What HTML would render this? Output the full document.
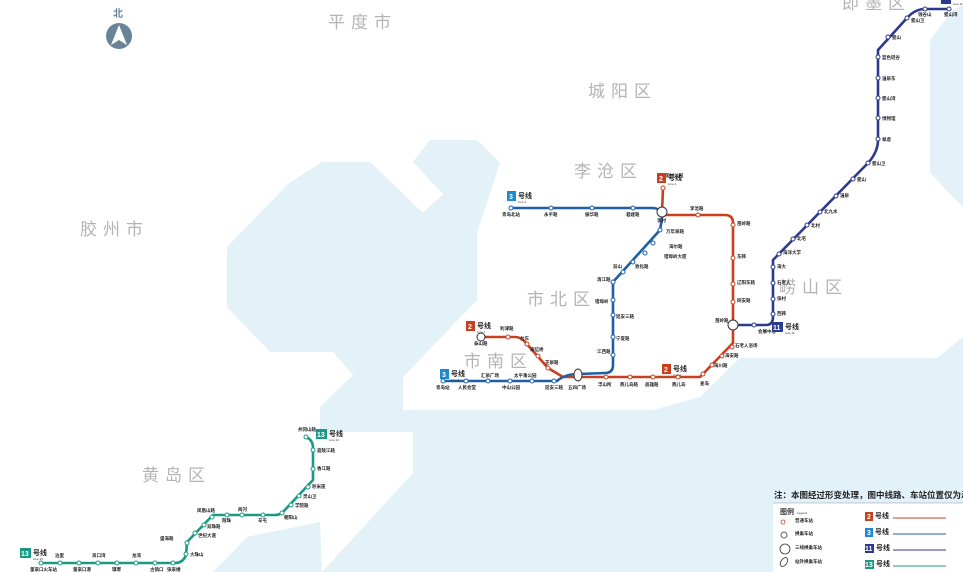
<!DOCTYPE html>
<html><head><meta charset="utf-8"><style>
html,body{margin:0;padding:0;background:#fff}
svg{display:block}
text{font-family:"Liberation Sans","Noto Sans CJK SC",sans-serif}
.d{font-size:17px;fill:#b4b4b4;letter-spacing:6px}
.s{font-size:4.5px;fill:#222;font-weight:bold}
.e{font-size:2.5px;fill:#555}
.b{font-size:7px;fill:#fff;font-weight:bold}
.h{font-size:7px;fill:#222;font-weight:bold}
.l{font-size:3px;fill:#333}
</style></head><body>
<svg width="963" height="572" viewBox="0 0 963 572" xmlns="http://www.w3.org/2000/svg">
<rect width="963" height="572" fill="#fff"/>
<g fill="#e3f1f9">
<polygon points="227,247 288,184 322,162 413,162 430,140 477,140 500,163 477,233 477,300 403,377 403,410 653,410 700,397 740,358 937,358 963,337 963,572 322,572 413,473 413,432 320,432 320,407 353,375 333,352 270,352 227,307"/>
<polygon points="213,572 247,537 320,522 322,572"/>
<polygon points="953,10 963,5 963,207 930,173 930,40"/>
</g>
<polygon points="370,162 413,162 443,194 423,213" fill="#fff"/>
<text class="d" x="328" y="28">平度市</text>
<text class="d" x="588" y="97">城阳区</text>
<text class="d" x="574" y="177">李沧区</text>
<text class="d" x="80" y="235">胶州市</text>
<text class="d" x="527" y="305">市北区</text>
<text class="d" x="464" y="367">市南区</text>
<text class="d" x="779" y="293">崂山区</text>
<text class="d" x="142" y="481">黄岛区</text>
<text class="d" x="842" y="9">即墨区</text>
<text x="113" y="17" style="font-size:10px;font-weight:bold;fill:#6a8396">北</text>
<circle cx="119" cy="36" r="13" fill="#6a8396"/>
<polygon points="119,25 127,45 119,40 111,45" fill="#fff"/>
<g fill="none" stroke-width="2.6" stroke-linejoin="round" stroke-linecap="round">
<path d="M733,325 L766,325 Q773,325 773,317 L773,260 L868,163 Q878,152 878,140 L878,50 L907,18 Q915,9 925,9 L949,9" stroke="#2a3a8f"/>
<path d="M663,188 L662,212 M662,215 L725,215 Q733,215 733,223 L733,343 L700,377 L563,377 L548,368 L525,342 Q521,337 515,337 L481,337" stroke="#c8401e"/>
<path d="M511,208 L652,208 Q662,208 662,218 L660,230 L613,282 L613,365 Q613,373 605,373 L578,374 Q565,374 557,381 L443,381" stroke="#1e5fa8"/>
<path d="M306,437 Q313,440 313,448 L313,480 L282,513 Q279,515 275,515 L213,515 L187,542 L186,555 Q183,563 175,563 L40,563" stroke="#1a9a84"/>
</g>
<g fill="#fff" stroke-width="1">
<g stroke="#1e5fa8">
<circle cx="511" cy="208" r="2"/><circle cx="551" cy="208" r="2"/><circle cx="592" cy="208" r="2"/><circle cx="633" cy="208" r="2"/>
<circle cx="660" cy="230" r="2"/><circle cx="653" cy="243" r="2"/><circle cx="645" cy="253" r="2"/><circle cx="633" cy="262" r="2"/><circle cx="623" cy="272" r="2"/><circle cx="613" cy="282" r="2"/><circle cx="613" cy="300" r="2"/><circle cx="613" cy="315" r="2"/><circle cx="613" cy="337" r="2"/><circle cx="613" cy="355" r="2"/>
<circle cx="443" cy="381" r="2"/><circle cx="466" cy="381" r="2"/><circle cx="488" cy="381" r="2"/><circle cx="510" cy="381" r="2"/><circle cx="532" cy="381" r="2"/><circle cx="554" cy="381" r="2"/>
</g>
<g stroke="#c8401e">
<circle cx="663" cy="188" r="2"/><circle cx="698" cy="215" r="2"/><circle cx="733" cy="225" r="2"/><circle cx="733" cy="258" r="2"/><circle cx="733" cy="284" r="2"/><circle cx="733" cy="302" r="2"/>
<circle cx="732" cy="347" r="2"/><circle cx="722" cy="356" r="2"/><circle cx="712" cy="365" r="2"/><circle cx="703" cy="374" r="2"/>
<circle cx="678" cy="377" r="2"/><circle cx="653" cy="377" r="2"/><circle cx="630" cy="377" r="2"/><circle cx="606" cy="377" r="2"/>
<circle cx="548" cy="368" r="2"/><circle cx="538" cy="356" r="2"/><circle cx="527" cy="344" r="2"/><circle cx="508" cy="337" r="2"/>
</g>
<g stroke="#2a3a8f">
<circle cx="754" cy="325" r="2"/><circle cx="773" cy="314" r="2"/><circle cx="773" cy="299" r="2"/><circle cx="773" cy="283" r="2"/><circle cx="773" cy="267" r="2"/><circle cx="779" cy="254" r="2"/><circle cx="793" cy="239" r="2"/><circle cx="807" cy="225" r="2"/><circle cx="820" cy="212" r="2"/><circle cx="836" cy="196" r="2"/><circle cx="853" cy="179" r="2"/><circle cx="868" cy="163" r="2"/><circle cx="878" cy="139" r="2"/><circle cx="878" cy="118" r="2"/><circle cx="878" cy="98" r="2"/><circle cx="878" cy="78" r="2"/><circle cx="878" cy="57" r="2"/><circle cx="888" cy="37" r="2"/><circle cx="907" cy="18" r="2"/><circle cx="925" cy="9" r="2"/><circle cx="949" cy="9" r="2"/>
</g>
<g stroke="#1a9a84">
<circle cx="306" cy="437" r="2"/><circle cx="313" cy="450" r="2"/><circle cx="313" cy="469" r="2"/><circle cx="308" cy="487" r="2"/><circle cx="299" cy="496" r="2"/><circle cx="291" cy="505" r="2"/><circle cx="282" cy="513" r="2"/><circle cx="263" cy="515" r="2"/><circle cx="242" cy="515" r="2"/><circle cx="227" cy="515" r="2"/><circle cx="212" cy="517" r="2"/><circle cx="204" cy="525" r="2"/><circle cx="195" cy="533" r="2"/><circle cx="187" cy="543" r="2"/><circle cx="186" cy="554" r="2"/>
<circle cx="173" cy="563" r="2"/><circle cx="155" cy="563" r="2"/><circle cx="136" cy="563" r="2"/><circle cx="117" cy="563" r="2"/><circle cx="98" cy="563" r="2"/><circle cx="79" cy="563" r="2"/><circle cx="60" cy="563" r="2"/><circle cx="41" cy="563" r="2"/>
</g>
<g stroke="#333">
<circle cx="662" cy="212" r="5"/><circle cx="733" cy="325" r="5"/><circle cx="481" cy="337" r="4"/>
<ellipse cx="578" cy="375" rx="4" ry="6"/>
</g>
</g>
<g class="s">
<text x="502" y="216">青岛北站</text><text x="544" y="216">永平路</text><text x="585" y="216">振华路</text><text x="626" y="216">君峰路</text>
<text x="665" y="177">李村公园</text><text x="657" y="222">李村</text><text x="666" y="233">万年泉路</text><text x="669" y="248">海尔路</text><text x="664" y="258">错埠岭大厦</text><text x="635" y="268">敦化路</text><text x="613" y="268">双山</text><text x="597" y="281">清江路</text><text x="595" y="303">错埠岭</text><text x="616" y="318">延安三路</text><text x="616" y="340">宁夏路</text><text x="597" y="353">江西路</text>
<text x="690" y="210">李沧路</text><text x="737" y="225">苗岭路</text><text x="737" y="258">东韩</text><text x="737" y="284">辽阳东路</text><text x="737" y="302">同安路</text><text x="715" y="322">苗岭路</text><text x="735" y="347">石老人浴场</text><text x="725" y="357">海安路</text><text x="714" y="367">海川路</text><text x="700" y="385">麦岛</text>
<text x="672" y="386">燕儿岛</text><text x="645" y="386">高雄路</text><text x="620" y="386">燕儿岛路</text><text x="598" y="386">浮山所</text><text x="568" y="389">五四广场</text>
<text x="545" y="364">芝泉路</text><text x="530" y="351">海信桥</text><text x="520" y="340">台东</text><text x="500" y="330">利津路</text><text x="474" y="345">泰山路</text>
<text x="436" y="389">青岛站</text><text x="458" y="389">人民会堂</text><text x="481" y="377">汇泉广场</text><text x="502" y="389">中山公园</text><text x="514" y="377">太平角公园</text><text x="545" y="389">延安三路</text>
<text x="758" y="333">会展中心</text><text x="777" y="315">西韩</text><text x="777" y="300">张村</text><text x="777" y="284">石老人</text><text x="777" y="268">海大</text><text x="783" y="254">海洋大学</text><text x="797" y="240">北宅</text><text x="811" y="227">北村</text><text x="824" y="213">北九水</text><text x="840" y="197">温泉</text><text x="857" y="181">鳌山</text><text x="872" y="165">鳌山卫</text><text x="882" y="141">皋虞</text><text x="882" y="120">博物馆</text><text x="882" y="100">鳌山湾</text><text x="882" y="80">温泉东</text><text x="882" y="59">蓝色硅谷</text><text x="892" y="39">鳌山</text><text x="911" y="22">鳌山卫</text><text x="918" y="16">钱谷山</text><text x="944" y="16">鳌山湾</text>
<text x="298" y="431">井冈山路</text><text x="317" y="452">嘉陵江路</text><text x="317" y="470">香江路</text><text x="312" y="488">积米崖</text><text x="303" y="498">灵山卫</text><text x="295" y="507">学院路</text><text x="284" y="519">朝阳山</text><text x="258" y="522">辛屯</text><text x="238" y="511">两河</text><text x="222" y="522">隐珠</text><text x="197" y="512">凤凰山路</text><text x="207" y="528">双珠路</text><text x="198" y="537">世纪大道</text><text x="160" y="540">盛海路</text><text x="190" y="556">大珠山</text>
<text x="167" y="571">张家楼</text><text x="150" y="571">古镇口</text><text x="132" y="557">龙湾</text><text x="112" y="571">琅琊</text><text x="92" y="557">贡口湾</text><text x="73" y="571">董家口港</text><text x="55" y="557">泊里</text><text x="30" y="571">董家口火车站</text>
</g>
<g>
<rect x="657" y="173" width="9" height="10" fill="#c8401e"/><text class="b" x="659" y="181">2</text><text class="h" x="668" y="180">号线</text><text class="l" x="668" y="185">Line 2</text>
<rect x="507" y="191" width="9" height="10" fill="#1e8ad0"/><text class="b" x="509" y="199">3</text><text class="h" x="518" y="198">号线</text><text class="l" x="518" y="203">Line 3</text>
<rect x="466" y="321" width="9" height="10" fill="#c8401e"/><text class="b" x="468" y="329">2</text><text class="h" x="477" y="328">号线</text><text class="l" x="477" y="333">Line 2</text>
<rect x="440" y="369" width="9" height="10" fill="#1e8ad0"/><text class="b" x="442" y="377">3</text><text class="h" x="451" y="376">号线</text><text class="l" x="451" y="381">Line 3</text>
<rect x="662" y="364" width="9" height="10" fill="#c8401e"/><text class="b" x="664" y="372">2</text><text class="h" x="673" y="371">号线</text><text class="l" x="673" y="376">Line 2</text>
<rect x="772" y="322" width="11" height="10" fill="#2a3a8f"/><text class="b" x="773" y="330">11</text><text class="h" x="785" y="329">号线</text><text class="l" x="785" y="334">Line 11</text>
<rect x="941" y="0" width="10" height="4" fill="#2a3a8f"/><text class="l" x="953" y="5">Line 11</text>
<rect x="316" y="429" width="11" height="10" fill="#1a9a84"/><text class="b" x="317" y="437">13</text><text class="h" x="329" y="436">号线</text><text class="l" x="329" y="441">Line 13</text>
<rect x="20" y="548" width="11" height="10" fill="#1a9a84"/><text class="b" x="21" y="556">13</text><text class="h" x="33" y="555">号线</text><text class="l" x="33" y="560">Line 13</text>
</g>
<text x="774" y="498" style="font-size:8.5px;font-weight:bold;fill:#222">注：本图经过形变处理，图中线路、车站位置仅为示意</text>
<rect x="773" y="503" width="190" height="69" fill="#fff"/>
<line x1="773" y1="503" x2="963" y2="503" stroke="#999" stroke-width="0.6"/>
<text x="780" y="514" style="font-size:7px;font-weight:bold;fill:#333">图例</text><text class="l" x="797" y="514">Legend</text>
<circle cx="783" cy="522" r="2" fill="none" stroke="#c8401e" stroke-width="0.8"/><text class="s" x="795" y="522">普通车站</text>
<circle cx="784" cy="535" r="3" fill="none" stroke="#333" stroke-width="0.8"/><text class="s" x="795" y="535">换乘车站</text>
<circle cx="785" cy="549" r="5" fill="none" stroke="#333" stroke-width="0.8"/><text class="s" x="795" y="549">三线换乘车站</text>
<ellipse cx="784" cy="562" rx="3" ry="5" transform="rotate(35 784 562)" fill="none" stroke="#333" stroke-width="0.8"/><text class="s" x="795" y="563">站外换乘车站</text>
<rect x="865" y="512" width="8" height="9" fill="#c8401e"/><text class="b" x="867" y="519">2</text><text class="h" x="875" y="518">号线</text><line x1="893" y1="518" x2="946" y2="518" stroke="#c8401e" stroke-width="1"/>
<rect x="865" y="528" width="8" height="9" fill="#1e8ad0"/><text class="b" x="867" y="535">3</text><text class="h" x="875" y="534">号线</text><line x1="893" y1="534" x2="946" y2="534" stroke="#1e5fa8" stroke-width="1"/>
<rect x="865" y="544" width="9" height="9" fill="#2a3a8f"/><text class="b" x="865" y="551">11</text><text class="h" x="876" y="550">号线</text><line x1="893" y1="550" x2="946" y2="550" stroke="#2a3a8f" stroke-width="1"/>
<rect x="865" y="560" width="9" height="9" fill="#1a9a84"/><text class="b" x="865" y="567">13</text><text class="h" x="876" y="566">号线</text><line x1="893" y1="566" x2="946" y2="566" stroke="#1a9a84" stroke-width="1"/>
</svg>
</body></html>
